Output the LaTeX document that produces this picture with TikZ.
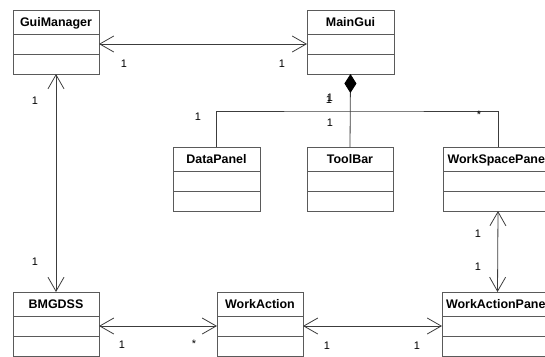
\documentclass[tikz,border=0pt]{standalone}
\usepackage{fontspec}
\setmainfont{Liberation Sans}
\usepackage{tikz}
\usetikzlibrary{arrows.meta, positioning, calc}
\definecolor{darkgray}{RGB}{60, 60, 60}
\definecolor{boxgray}{RGB}{90, 90, 90}

\begin{document}
\begin{tikzpicture}[x=1bp, y=-1bp,
    classtitle/.style={draw=boxgray, line width=0.8bp, inner sep=0pt, outer sep=0pt,
        minimum height=24bp, font=\fontsize{12.5}{14}\selectfont\bfseries,
        text height=9bp, text depth=0bp},
    classpart/.style={draw=boxgray, line width=0.8bp, inner sep=0pt, outer sep=0pt,
        minimum height=20bp},
    assoc/.style={darkgray, line width=0.8bp, {Straight Barb[length=14bp, width=16bp]}-{Straight Barb[length=14bp, width=16bp]}},
    comp/.style={darkgray, line width=0.8bp},
    mult/.style={font=\fontsize{11}{13}\selectfont, inner sep=0pt}]
    \useasboundingbox (0,0) rectangle (545,356);

    % Classes
    \foreach \name/\x/\y/\w/\title in {gui/13/10/86/GuiManager, main/307/10/87/MainGui,
        data/173/147/87/DataPanel, tool/307/147/86/ToolBar, wsp/443/147/110/WorkSpacePanel,
        bmg/13/292/86/BMGDSS, act/217/292/86/WorkAction, wap/442/292/111/WorkActionPanel} {
        \node[classtitle, minimum width=\w bp, anchor=north west] (\name) at (\x,\y) {\title};
        \node[classpart, minimum width=\w bp, anchor=north] (\name-attr) at (\name.south) {};
        \node[classpart, minimum width=\w bp, anchor=north] (\name-ops) at (\name-attr.south) {};
    }

    % Associations
    \draw[assoc] (gui-attr.east) -- (main-attr.west);
    \draw[assoc] (gui-ops.south) -- (bmg.north);
    \draw[assoc] (bmg-attr.east) -- (act-attr.west);
    \draw[assoc] (act-attr.east) -- (wap-attr.west);
    \draw[assoc] (wsp-ops.south) -- (wap.north);

    % Composition
    \coordinate (bus) at (main-ops.south |- 0,111);
    \draw[comp, {Diamond[length=19bp, width=12bp, black, fill=black]}-] (main-ops.south) -- (tool.north);
    \draw[comp] (data.north) |- (bus) -| (wsp.north);

    % Multiplicities
    \foreach \x/\y/\t [count=\i] in {124/64/1, 282/64/1, 35/101/1, 35/262/1,
        198/117/1, 329/100/1, 330/98/1, 330/123/1, 479/115/*,
        478/234/1, 478/267/1, 122/345/1, 194/344/*, 327/346/1, 417/346/1} {
        \node[mult] (m\i) at (\x,\y) {\t};
    }
\end{tikzpicture}
\end{document}
